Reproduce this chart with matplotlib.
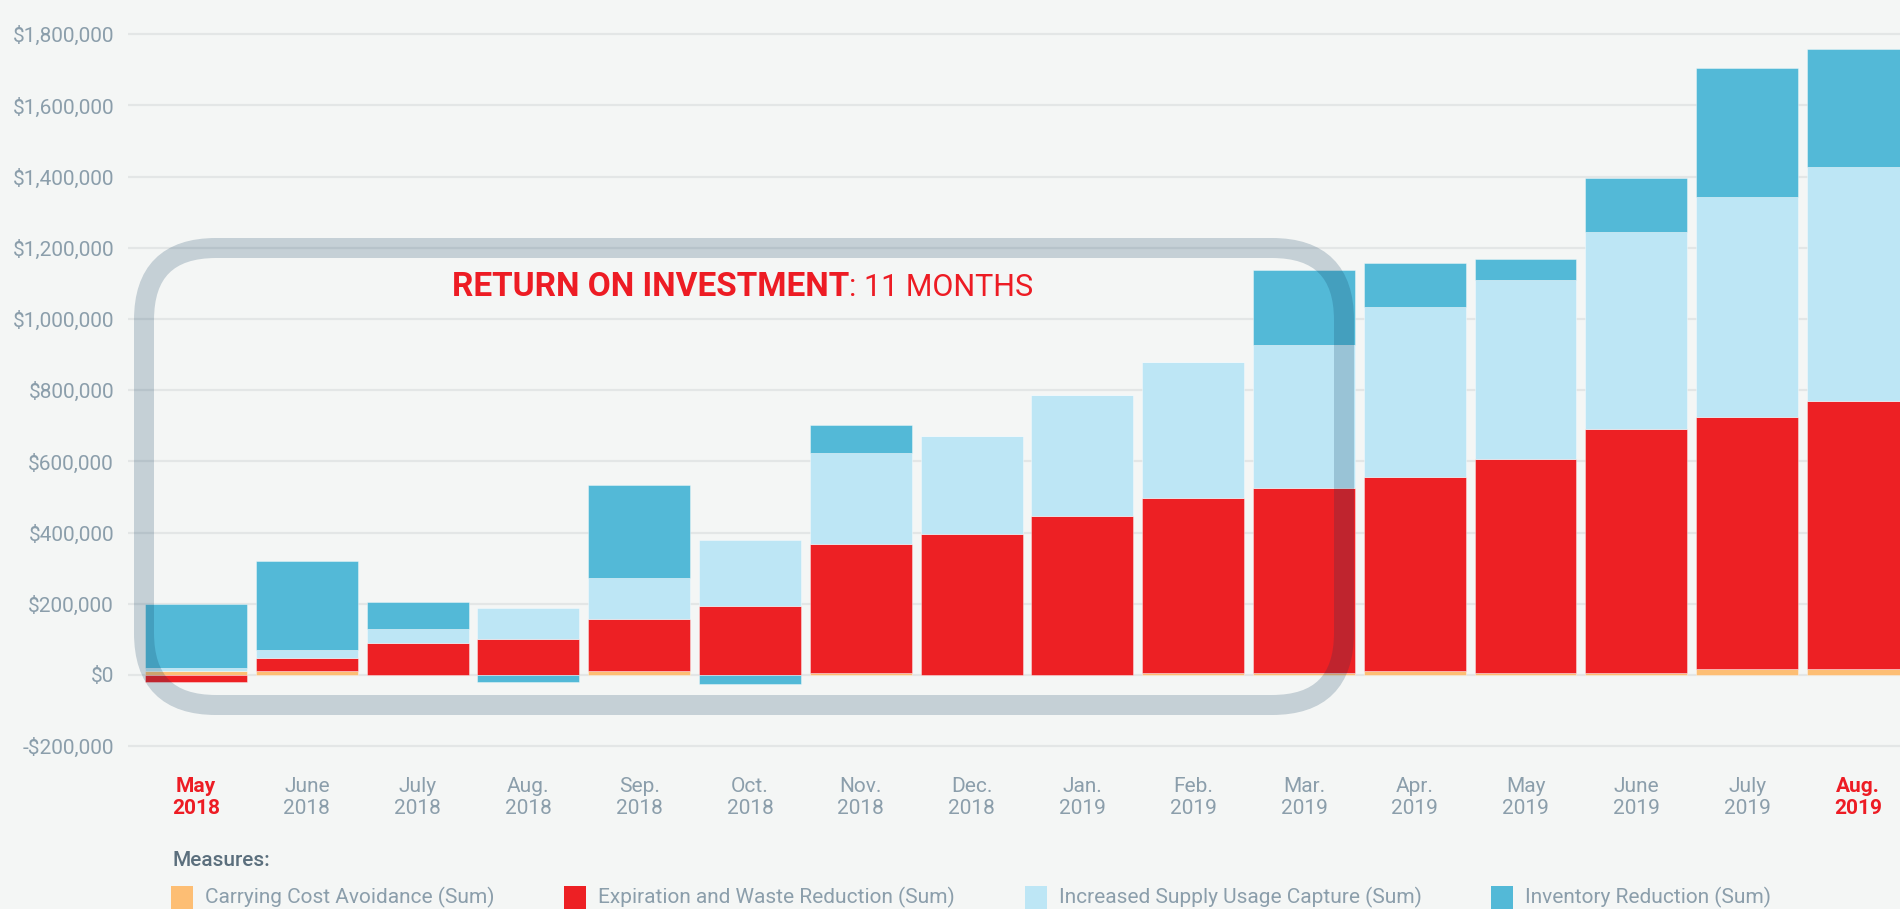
import matplotlib
matplotlib.use("Agg")
import matplotlib.pyplot as plt
from matplotlib.patches import FancyBboxPatch, Rectangle
from matplotlib.transforms import IdentityTransform
from matplotlib.ticker import FuncFormatter, MultipleLocator
import numpy as np

plt.rcParams['font.family'] = ['Roboto', 'DejaVu Sans']

################################################################################
# data (USD)
months = ["May\n2018", "June\n2018", "July\n2018", "Aug.\n2018", "Sep.\n2018",
          "Oct.\n2018", "Nov.\n2018", "Dec.\n2018", "Jan.\n2019", "Feb.\n2019",
          "Mar.\n2019", "Apr.\n2019", "May\n2019", "June\n2019", "July\n2019",
          "Aug.\n2019"]
carrying_cost = [10000, 10000, 0, 0, 10000, 0, 5000, 0,
                 0, 6500, 6500, 10000, 5000, 5000, 16000, 16000]
expiration_waste = [-20600, 37400, 89000, 102000, 147000, 194000, 363000, 395000,
                    446000, 490500, 517500, 545000, 601000, 686000, 709000, 754000]
supply_capture = [8400, 21500, 40000, 86000, 115000, 184000, 255000, 276000,
                  340000, 382000, 403000, 479000, 504000, 552000, 619000, 658000]
inventory_reduction = [180000, 251000, 76000, -21000, 262000, -25000, 78000, 0,
                       0, 0, 211000, 124000, 58000, 154000, 360000, 329000]
highlight = [0, 15]   # months drawn in red

series_names = ["Carrying Cost Avoidance (Sum)", "Expiration and Waste Reduction (Sum)",
                "Increased Supply Usage Capture (Sum)", "Inventory Reduction (Sum)"]
series_vals = [carrying_cost, expiration_waste, supply_capture, inventory_reduction]

################################################################################
BG = "#f4f6f5"
GRID = "#e3e6e6"
TXT = "#8b9eab"
RED = "#ed1c24"
COLORS = ["#fdbe74", "#ed2024", "#bde6f5", "#53b9d7"]

W, H = 1900, 909
fig = plt.figure(figsize=(W/100, H/100), dpi=100, facecolor=BG)
ax = fig.add_axes([128/W, 1-765/H, 1-128/W, 765/H])
ax.set_facecolor(BG)

x = np.arange(len(months))
pos = np.zeros(len(months))
neg = np.zeros(len(months))
for vals, col in zip(series_vals, COLORS):
    v = np.array(vals, dtype=float)
    base = np.where(v >= 0, pos, neg)
    ax.bar(x, v, bottom=base, width=0.92, color=col,
           edgecolor=(1, 1, 1, 0.45), linewidth=0.6, zorder=3)
    pos += np.clip(v, 0, None)
    neg += np.clip(v, None, 0)

ax.set_xlim(-0.614, 15.38)
ax.set_ylim(-252800, 1896000)
ax.yaxis.set_major_locator(MultipleLocator(200000))
ax.yaxis.set_major_formatter(FuncFormatter(
    lambda v, p: ("-$" if v < 0 else "$") + f"{abs(v):,.0f}"))
ax.set_axisbelow(True)
ax.yaxis.grid(True, color=GRID, linewidth=1.6)
for s in ax.spines.values():
    s.set_visible(False)
ax.tick_params(length=0, labelsize=15, labelcolor=TXT)
ax.tick_params(axis='y', pad=10)
ax.tick_params(axis='x', pad=9)
ax.set_xticks(x)
ax.set_xticklabels(months, linespacing=1.2)
for i, lab in enumerate(ax.get_xticklabels()):
    if i in highlight:
        lab.set_color(RED)
        lab.set_fontweight("bold")

# rounded ROI box (pixels)
box = FancyBboxPatch((144, H-705), 1200, 457,
                     boxstyle="round,pad=0,rounding_size=72",
                     fill=False, edgecolor=(9/255, 56/255, 90/255, 0.2),
                     linewidth=14.4, transform=IdentityTransform(), zorder=5)
fig.add_artist(box)

t1 = fig.text(452/W, 1-287/H, "RETURN ON INVESTMENT", color=RED,
              fontsize=24, fontweight="bold", va="center", ha="left", zorder=6)
ax.annotate(": 11 MONTHS", xy=(1, 0.5), xycoords=t1, color=RED, fontsize=22,
            va="center", ha="left", annotation_clip=False, zorder=6)

# legend
fig.text(172/W, 48/H, "Measures:", color="#5b6f7d", fontsize=15,
         fontweight="medium", va="center", ha="left")
sq_x = [171, 564, 1025, 1491]
for name, col, sx in zip(series_names, COLORS, sq_x):
    fig.add_artist(Rectangle((sx, -10), 22, 33, facecolor=col, edgecolor="none",
                             transform=IdentityTransform()))
    fig.text((sx+34)/W, 12/H, name, color=TXT, fontsize=15,
             va="center", ha="left")

fig.savefig("out.png", dpi=100, facecolor=BG)
